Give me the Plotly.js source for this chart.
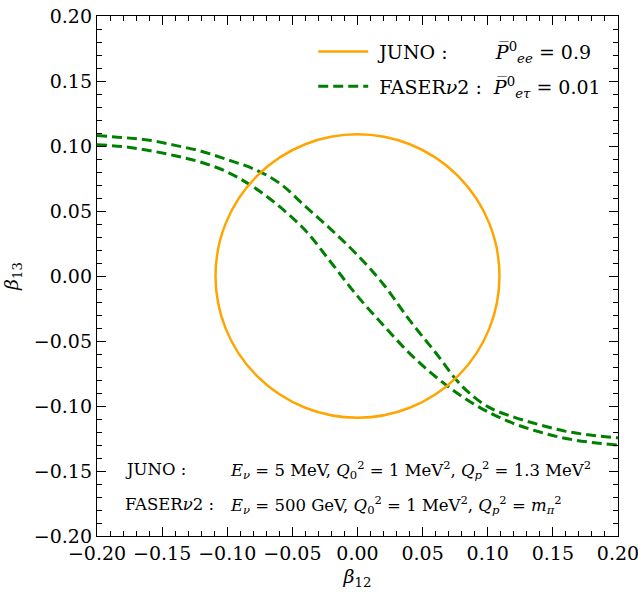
<!DOCTYPE html>
<html>
<head>
<meta charset="utf-8">
<script src="https://cdn.plot.ly/plotly-3.0.1.min.js"></script>
<style>html,body{margin:0;padding:0;background:#fff;}#chart{width:638px;height:595px;}</style>
</head>
<body>
<div id="chart"></div>
<script>
// ---- data ----
const beta12 = [-0.20,-0.18,-0.16,-0.14,-0.12,-0.10,-0.08,-0.06,-0.04,-0.02,0.00,0.02,0.04,0.06,0.08,0.10,0.12,0.14,0.16,0.18,0.20];
const faserUpper = [0.108,0.1065,0.1045,0.1005,0.096,0.0895,0.0825,0.0715,0.0535,0.0355,0.016,-0.0065,-0.034,-0.059,-0.0845,-0.1005,-0.1085,-0.1145,-0.1195,-0.1225,-0.1245];
const faserLower = [0.101,0.0995,0.0965,0.0925,0.0875,0.080,0.0685,0.0535,0.035,0.010,-0.0155,-0.038,-0.0595,-0.0775,-0.0925,-0.1045,-0.1135,-0.120,-0.125,-0.128,-0.130];
const junoCenter = [0.0, 0.0];   // (beta12, beta13)
const junoRadius = 0.109;
const legendNames = [
  "\u00a0JUNO :\u00a0\u00a0\u00a0\u00a0\u00a0\u00a0\u00a0\u00a0<i>P\u0305</i><sup>0</sup><sub><i>ee</i></sub> = 0.9",
  "\u00a0FASER<i>ν</i>2 :\u00a0\u00a0<i>P\u0305</i><sup>0</sup><sub><i>eτ</i></sub> = 0.01"
];
const noteLabels = ["JUNO :", "FASER<i>ν</i>2 :"];
const noteTexts = [
  "<i>E</i><sub><i>ν</i></sub> = 5 MeV, <i>Q</i><sub>0</sub><sup>2</sup> = 1 MeV<sup>2</sup>, <i>Q</i><sub><i>p</i></sub><sup>2</sup> = 1.3 MeV<sup>2</sup>",
  "<i>E</i><sub><i>ν</i></sub> = 500 GeV, <i>Q</i><sub>0</sub><sup>2</sup> = 1 MeV<sup>2</sup>, <i>Q</i><sub><i>p</i></sub><sup>2</sup> = <i>m</i><sub><i>π</i></sub><sup>2</sup>"
];
const xTitle = "<i>β</i><sub>12</sub>";
const yTitle = "<i>β</i><sub>13</sub>";

// ---- styling ----
const FONT = "DejaVu Serif";
const ORANGE = "#FFA500";
const GREEN = "#008000";

const traces = [
  {x:[null], y:[null], mode:'lines', name:legendNames[0], legendgroup:'a',
   line:{color:ORANGE, width:2.5}, hoverinfo:'skip'},
  {x:beta12, y:faserUpper, mode:'lines', name:legendNames[1], legendgroup:'b',
   line:{color:GREEN, width:3, dash:'10px,5px', shape:'spline'}},
  {x:beta12, y:faserLower, mode:'lines', name:'lower', showlegend:false, legendgroup:'b',
   line:{color:GREEN, width:3, dash:'10px,5px', shape:'spline'}}
];

const axisCommon = {
  range:[-0.2,0.2], dtick:0.05, tickformat:'.2f', ticklabeloverflow:'allow',
  ticks:'inside', ticklen:9, tickwidth:1, tickcolor:'#000',
  showline:true, linecolor:'#000', linewidth:1.2, mirror:'allticks',
  showgrid:false, zeroline:false,
  minor:{dtick:0.01, ticks:'inside', ticklen:5, tickwidth:1, tickcolor:'#000', showgrid:false},
  tickfont:{family:FONT, size:19, color:'#000'}
};

const annotations = [];
[0.127, 0.060].forEach((yy,i)=>{
  annotations.push({xref:'paper', yref:'paper', x:0.05, y:yy, xanchor:'left', yanchor:'middle',
    text:noteLabels[i], showarrow:false, font:{family:FONT, size:16.5, color:'#000'}});
  annotations.push({xref:'paper', yref:'paper', x:0.252, y:yy, xanchor:'left', yanchor:'middle',
    text:noteTexts[i], showarrow:false, font:{family:FONT, size:16.5, color:'#000'}});
});

const layout = {
  width:638, height:595,
  margin:{l:97, r:20, t:16, b:59},
  paper_bgcolor:'#fff', plot_bgcolor:'#fff',
  xaxis:Object.assign({}, axisCommon, {title:{text:xTitle, font:{family:FONT, size:19, color:'#000'}, standoff:6}}),
  yaxis:Object.assign({}, axisCommon, {title:{text:yTitle, font:{family:FONT, size:19, color:'#000'}, standoff:14}}),
  showlegend:true,
  legend:{x:0.415, y:0.968, xanchor:'left', yanchor:'top', bgcolor:'rgba(0,0,0,0)', borderwidth:0,
          font:{family:FONT, size:19, color:'#000'}, traceorder:'grouped', tracegroupgap:7, itemwidth:50},
  shapes:[{type:'circle', xref:'x', yref:'y',
           x0:junoCenter[0]-junoRadius, x1:junoCenter[0]+junoRadius,
           y0:junoCenter[1]-junoRadius, y1:junoCenter[1]+junoRadius,
           line:{color:ORANGE, width:2.5}, layer:'above'}],
  annotations:annotations
};

Plotly.newPlot('chart', traces, layout, {displayModeBar:false, staticPlot:true});
</script>
</body>
</html>
